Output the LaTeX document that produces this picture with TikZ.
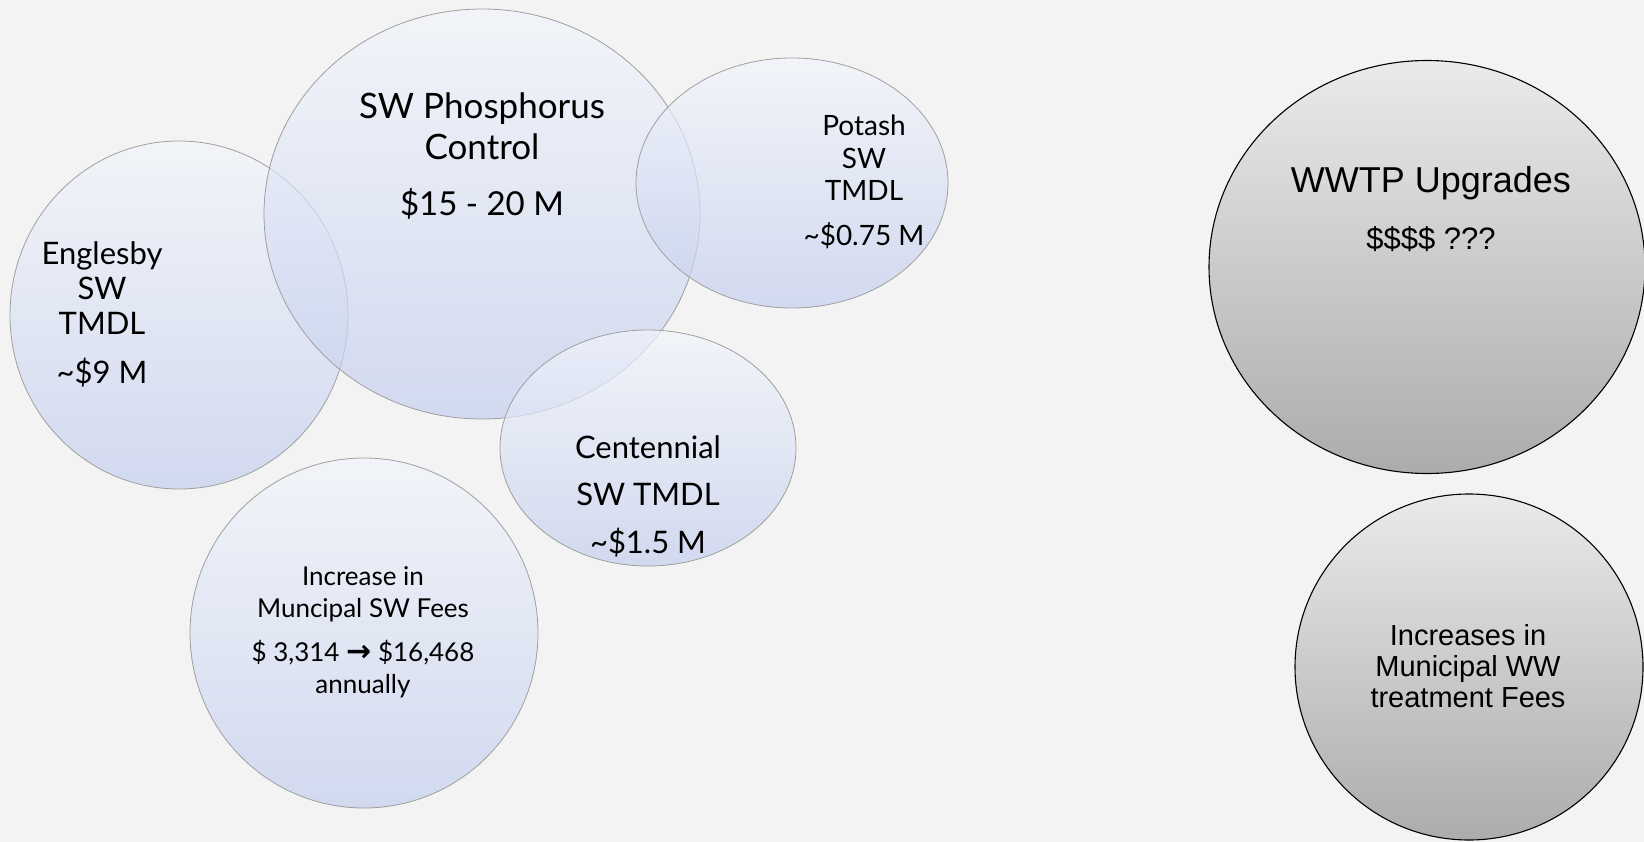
\documentclass[tikz,border=0pt]{standalone}
\usepackage{fontspec}
\setmainfont{Lato}
\newfontfamily\wwfont{Liberation Sans}
\newfontfamily\arrowfont{DejaVu Sans}
\usetikzlibrary{shapes.geometric}
\definecolor{paper}{RGB}{243,243,243}
\definecolor{bluetop}{RGB}{242,245,252}
\definecolor{bluebot}{RGB}{196,207,238}
\definecolor{greytop}{RGB}{234,234,234}
\definecolor{greybot}{RGB}{172,172,172}

\begin{document}
\begin{tikzpicture}[x=1pt, y=-1pt,
        bubble/.style={ellipse, draw=gray!75, line width=0.8pt, inner sep=0pt,
            top color=bluetop, bottom color=bluebot, fill opacity=0.7},
        greybubble/.style={ellipse, draw=black, line width=1.1pt, inner sep=0pt,
            top color=greytop, bottom color=greybot},
        words/.style={align=center, text=black}]
            \fill[paper] (0,0) rectangle (1644,842);
            \useasboundingbox (0,0) rectangle (1644,842);

            % surface water bubbles
            \node[bubble, minimum width=338pt, minimum height=348pt] (englesby) at (179, 315) {};
            \node[bubble, minimum width=436pt, minimum height=410pt] (phosphorus) at (482, 214) {};
            \node[bubble, minimum width=312pt, minimum height=250pt] (potash) at (792, 183) {};
            \node[bubble, minimum width=296pt, minimum height=236pt] (centennial) at (648, 448) {};
            \node[bubble, minimum width=348pt, minimum height=350pt] (swfees) at (364, 633) {};

            % waste water bubbles
            \node[greybubble, minimum width=436pt, minimum height=413pt] (wwtp) at (1427, 267) {};
            \node[greybubble, minimum width=348pt, minimum height=346pt] (wwfees) at (1469, 667) {};

            \node[words, font=\fontsize{35}{41}\selectfont] (phostext) at (482, 156)
                { SW Phosphorus\\Control\\[15pt]{\fontsize{33}{41}\selectfont\$15 - 20 M} };
            \node[words, font=\fontsize{31}{35}\selectfont] (englesbytext) at (102, 314)
                { Englesby\\SW\\TMDL\\[14pt]\textasciitilde\$9 M };
            \node[words, font=\fontsize{28}{32.5}\selectfont] (potashtext) at (864, 182)
                { Potash\\SW\\TMDL\\[12pt]\textasciitilde\$0.75 M };
            \node[words, font=\fontsize{31}{47.5}\selectfont] (centennialtext) at (648, 496)
                { Centennial\\SW TMDL\\\textasciitilde\$1.5 M };
            \node[words, font=\fontsize{26}{32}\selectfont] (swfeestext) at (363, 632)
                { Increase in\\Muncipal SW Fees\\[12pt]\$ 3,314 {\arrowfont\bfseries\fontsize{30}{32}\selectfont →} \$16,468\\annually };
            \node[words, font=\wwfont\fontsize{36}{57}\selectfont] (wwtptext) at (1431, 209)
                { WWTP Upgrades\\{\fontsize{31}{57}\selectfont\$\$\$\$ ???} };
            \node[words, font=\wwfont\fontsize{29}{31}\selectfont] (wwfeestext) at (1468, 666)
                { Increases in\\Municipal WW\\treatment Fees };
        \end{tikzpicture}
\end{document}
